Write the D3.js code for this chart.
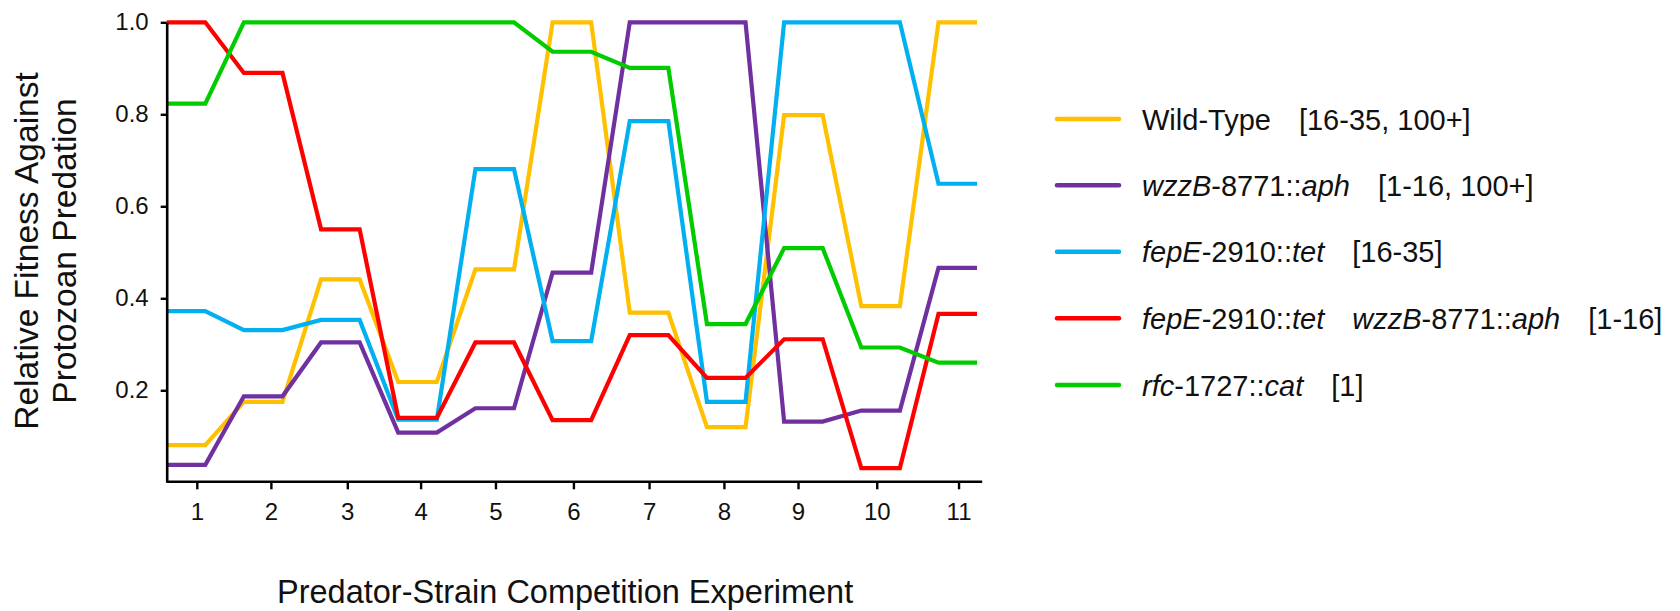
<!DOCTYPE html>
<html>
<head>
<meta charset="utf-8">
<script src="https://cdn.jsdelivr.net/npm/d3@7"></script>
<style>
  html, body { margin: 0; padding: 0; background: #fff; }
  svg { display: block; font-family: Arial, "Liberation Sans", sans-serif; }
</style>
</head>
<body>
<svg id="chart" width="1680" height="611"></svg>
<script>
// Experiments 1–11 and their axis tick positions
const experiments = [1, 2, 3, 4, 5, 6, 7, 8, 9, 10, 11];
const tickLabels = ["1", "2", "3", "4", "5", "6", "7", "8", "9", "10", "11"];
const tickPos = [1.14, 2.10, 3.09, 4.04, 5.01, 6.02, 7.00, 7.97, 8.93, 9.95, 11.01];
const yTicks = [0.2, 0.4, 0.6, 0.8, 1.0];

// Relative fitness of each strain per experiment
const wildType = [0.081, 0.175, 0.441, 0.218, 0.463, 1.0, 0.369, 0.120, 0.798, 0.383, 1.0];
const wzzB     = [0.038, 0.187, 0.304, 0.108, 0.161, 0.456, 1.0, 1.0, 0.132, 0.156, 0.466];
const fepE     = [0.372, 0.331, 0.353, 0.136, 0.681, 0.307, 0.785, 0.175, 1.0, 1.0, 0.649];
const fepEwzzB = [1.0, 0.890, 0.550, 0.140, 0.304, 0.135, 0.320, 0.227, 0.311, 0.031, 0.366];
const rfc      = [0.823, 1.0, 1.0, 1.0, 1.0, 0.936, 0.901, 0.344, 0.509, 0.293, 0.260];

// Legend entries: pieces of [text, italic]
const series = [
  { values: wildType, color: "#FFC000",
    label: [["Wild-Type", false]], range: "[16-35, 100+]" },
  { values: wzzB, color: "#7030A0",
    label: [["wzzB", true], ["-8771::", false], ["aph", true]], range: "[1-16, 100+]" },
  { values: fepE, color: "#00B0F0",
    label: [["fepE", true], ["-2910::", false], ["tet", true]], range: "[16-35]" },
  { values: fepEwzzB, color: "#FF0000",
    label: [["fepE", true], ["-2910::", false], ["tet", true], ["GAP", false],
            ["wzzB", true], ["-8771::", false], ["aph", true]], range: "[1-16]" },
  { values: rfc, color: "#00CC00",
    label: [["rfc", true], ["-1727::", false], ["cat", true]], range: "[1]" }
];

const svg = d3.select("#chart");
svg.append("rect").attr("width", 1680).attr("height", 611).attr("fill", "#fff");

const x = d3.scaleLinear().domain([0.75, 11.31]).range([166.7, 981.7]);
const y = d3.scaleLinear().domain([0, 1]).range([482.3, 22.3]);

// Each experiment is drawn as a flat plateau of half-width 0.25
const half = 0.25;
const line = d3.line().x(d => x(d[0])).y(d => y(d[1])).curve(d3.curveLinear);

const plot = svg.append("g");
series.forEach(s => {
  const pts = [];
  experiments.forEach((e, i) => {
    pts.push([e - half, s.values[i]]);
    pts.push([e + half, s.values[i]]);
  });
  plot.append("path")
    .attr("d", line(pts))
    .attr("fill", "none")
    .attr("stroke", s.color)
    .attr("stroke-width", 4.2)
    .attr("stroke-linejoin", "miter");
});

// Axes
const xAxis = d3.axisBottom(x)
  .tickValues(tickPos)
  .tickFormat((d, i) => tickLabels[i])
  .tickSize(8)
  .tickSizeOuter(0)
  .tickPadding(14);
const gx = svg.append("g").attr("transform", `translate(0,${y(0) - 1})`).call(xAxis);
gx.select(".domain").attr("stroke", "#000").attr("stroke-width", 2.6);
gx.selectAll(".tick line").attr("stroke", "#000").attr("stroke-width", 2.4);
gx.selectAll(".tick text").attr("font-size", 24).attr("fill", "#111");

const yAxis = d3.axisLeft(y)
  .tickValues(yTicks)
  .tickFormat(d3.format(".1f"))
  .tickSize(6)
  .tickSizeOuter(0)
  .tickPadding(12);
const gy = svg.append("g").attr("transform", `translate(${x(0.75)},0)`).call(yAxis);
gy.select(".domain").attr("stroke", "#000").attr("stroke-width", 2.6);
gy.selectAll(".tick line").attr("stroke", "#000").attr("stroke-width", 2.4);
gy.selectAll(".tick text").attr("font-size", 24).attr("fill", "#111");

// Axis titles
const yTitle = svg.append("text")
  .attr("transform", "translate(38,251) rotate(-90)")
  .attr("text-anchor", "middle")
  .attr("font-size", 33.5)
  .attr("fill", "#111");
yTitle.append("tspan").attr("x", 0).attr("y", 0).text("Relative Fitness Against");
yTitle.append("tspan").attr("x", 0).attr("y", 38).text("Protozoan Predation");

svg.append("text")
  .attr("x", 277)
  .attr("y", 603)
  .attr("font-size", 32.5)
  .attr("fill", "#111")
  .text("Predator-Strain Competition Experiment");

// Legend
const legend = svg.append("g");
const legendY = [119, 185.3, 251.7, 318.3, 385];
series.forEach((s, i) => {
  const ly = legendY[i];
  legend.append("line")
    .attr("x1", 1057).attr("x2", 1119)
    .attr("y1", ly).attr("y2", ly)
    .attr("stroke", s.color)
    .attr("stroke-width", 4.5)
    .attr("stroke-linecap", "round");
  const t = legend.append("text")
    .attr("x", 1142)
    .attr("y", ly + 10.5)
    .attr("font-size", 29)
    .attr("fill", "#111");
  let pendingGap = false;
  s.label.forEach(([txt, it]) => {
    if (txt === "GAP") { pendingGap = true; return; }
    const ts = t.append("tspan").text(txt).attr("font-style", it ? "italic" : "normal");
    if (pendingGap) { ts.attr("dx", 28); pendingGap = false; }
  });
  t.append("tspan").attr("dx", 28).text(s.range);
});
</script>
</body>
</html>
